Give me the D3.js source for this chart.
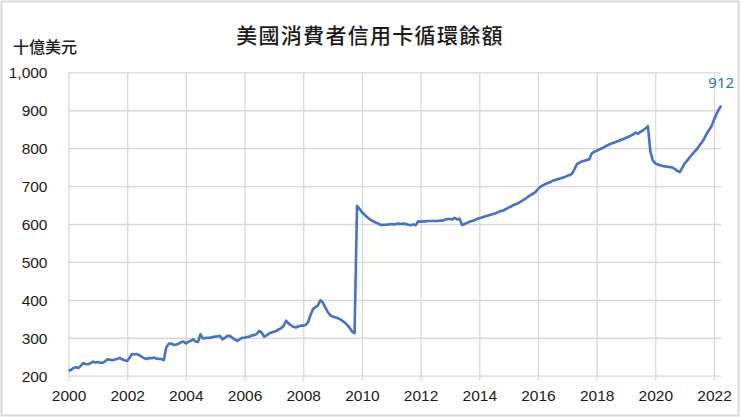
<!DOCTYPE html>
<html>
<head>
<meta charset="utf-8">
<script src="https://cdn.jsdelivr.net/npm/d3@7"></script>
<style>
  body { margin: 0; background: #fff; }
  svg { display: block; font-family: "Noto Sans", "Noto Sans CJK TC", sans-serif; }
  .grid line { stroke: #d9d9d9; stroke-width: 1.3; }
  .grid path { display: none; }
  .axis path, .axis line { display: none; }
  .axis text { font-size: 15.5px; fill: #1a1a1a; }
</style>
</head>
<body>
<svg id="chart" width="740" height="417"></svg>
<script>
// monthly revolving credit balance, billions USD, starting Jan 2000
const startYear = 2000;
const balances = [
  // 2000
  213, 215, 220, 222, 220, 226, 233, 231, 230, 233, 237, 235,
  // 2001
  236, 234, 234, 238, 243, 242, 241, 243, 245, 247, 243, 241,
  // 2002
  239, 248, 257, 256, 257, 254, 250, 246, 244, 247, 246, 248,
  // 2003
  245, 244, 244, 241, 274, 284, 285, 281, 282, 284, 288, 290,
  // 2004
  285, 289, 292, 296, 290, 289, 309, 298, 299, 300, 300, 302,
  // 2005
  303, 304, 305, 296, 300, 305, 305, 300, 296, 292, 296, 300,
  // 2006
  300, 302, 303, 306, 307, 310, 318, 314, 303, 306, 311, 314,
  // 2007
  316, 318, 322, 325, 331, 345, 338, 333, 329, 327, 330, 332,
  // 2008
  332, 334, 341, 360, 375, 381, 385, 399, 393, 380, 368, 360,
  // 2009
  356, 354, 352, 349, 345, 340, 334, 326, 316, 312, 648, 640,
  // 2010
  631, 625, 619, 614, 609, 606, 603, 600, 597, 598, 598, 599,
  // 2011
  600, 599, 600, 601, 600, 601, 600, 598, 597, 599, 597, 607,
  // 2012
  606, 607, 607, 608, 608, 608, 608, 608, 609, 609, 611, 613,
  // 2013
  613, 612, 616, 612, 614, 597, 600, 603, 606, 608, 610, 613,
  // 2014
  615, 617, 619, 621, 623, 625, 627, 629, 632, 634, 636, 640,
  // 2015
  643, 646, 650, 652, 655, 659, 663, 667, 672, 676, 680, 684,
  // 2016
  692, 698, 702, 705, 708, 710, 714, 716, 718, 720, 722, 724,
  // 2017
  727, 729, 733, 745, 758, 762, 765, 767, 769, 771, 786, 790,
  // 2018
  793, 796, 799, 802, 806, 809, 812, 814, 817, 819, 822, 824,
  // 2019
  827, 830, 833, 836, 841, 838, 843, 847, 852, 858, 790, 768,
  // 2020
  760, 757, 755, 753, 752, 751, 750, 749, 745, 740, 737, 748,
  // 2021
  760, 767, 775, 783, 790, 797, 806, 815, 825, 838, 848, 858,
  // 2022
  875, 890, 902, 912
];
const yTicks = [200, 300, 400, 500, 600, 700, 800, 900, 1000];
const xTickYears = d3.range(2000, 2023, 2);
const title = "美國消費者信用卡循環餘額";
const unitLabel = "十億美元";

const data = balances.map((v, i) => ({
  date: new Date(startYear + Math.floor(i / 12), i % 12, 1),
  value: v
}));
const last = data[data.length - 1];

const svg = d3.select("#chart");
const plotLeft = 68.5, gridRight = 721, plotBottom = 375.7, plotTop = 72.3;

const x = d3.scaleTime()
  .domain([new Date(2000, 0, 1), new Date(2022, 0, 1)])
  .range([plotLeft, 714]);

const y = d3.scaleLinear()
  .domain([200, 1000])
  .range([plotBottom, plotTop]);

// outer frame
svg.append("rect")
  .attr("x", 1.5).attr("y", 1.5)
  .attr("width", 737).attr("height", 414)
  .attr("fill", "none")
  .attr("stroke", "#d9d9d9")
  .attr("stroke-width", 2);

// horizontal gridlines
svg.append("g")
  .attr("class", "grid")
  .attr("transform", `translate(${plotLeft},0)`)
  .call(d3.axisLeft(y)
    .tickValues(yTicks)
    .tickSize(-(gridRight - plotLeft))
    .tickFormat("")
  );

// vertical gridlines (a little past the bottom line, like tick marks)
svg.append("g")
  .attr("class", "grid")
  .attr("transform", `translate(0,${plotBottom + 5})`)
  .call(d3.axisBottom(x)
    .tickValues(xTickYears.map(yr => new Date(yr, 0, 1)))
    .tickSize(-(plotBottom + 5 - plotTop))
    .tickFormat("")
  );

// axes labels
svg.append("g")
  .attr("class", "axis")
  .attr("transform", `translate(${plotLeft - 18},0)`)
  .call(d3.axisLeft(y)
    .tickValues(yTicks)
    .tickSize(0)
    .tickFormat(d3.format(","))
  )
  .selectAll("text").attr("dy", "0.36em");

svg.append("g")
  .attr("class", "axis")
  .attr("transform", `translate(0,${plotBottom + 11})`)
  .call(d3.axisBottom(x)
    .tickValues(xTickYears.map(yr => new Date(yr, 0, 1)))
    .tickSize(0)
    .tickFormat(d3.timeFormat("%Y"))
  );

// line
const line = d3.line()
  .x(d => x(d.date))
  .y(d => y(d.value));

svg.append("path")
  .datum(data)
  .attr("fill", "none")
  .attr("stroke", "#4472c4")
  .attr("stroke-width", 2.6)
  .attr("stroke-linejoin", "round")
  .attr("d", line);

// end label
svg.append("text")
  .attr("x", x(last.date))
  .attr("y", y(last.value) - 18)
  .attr("text-anchor", "middle")
  .attr("font-size", 15)
  .attr("fill", "#2e75b6")
  .text(last.value);

// title & unit
svg.append("text")
  .attr("x", 370)
  .attr("y", 43)
  .attr("text-anchor", "middle")
  .attr("font-size", 21)
  .attr("font-weight", 500)
  .attr("letter-spacing", 1.3)
  .attr("fill", "#1a1a1a")
  .text(title);

svg.append("text")
  .attr("x", 13)
  .attr("y", 53)
  .attr("font-size", 16)
  .attr("font-weight", 500)
  .attr("fill", "#1a1a1a")
  .text(unitLabel);
</script>
</body>
</html>
